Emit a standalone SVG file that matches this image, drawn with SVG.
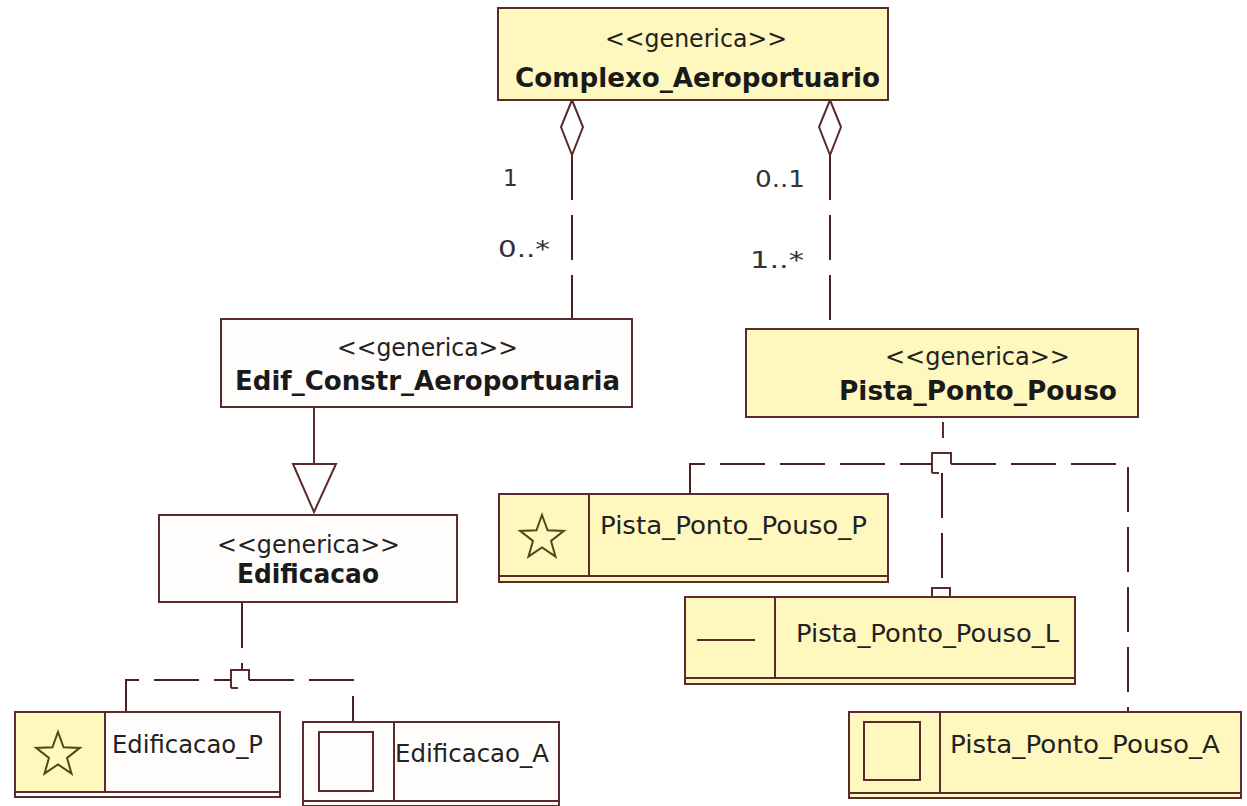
<svg xmlns="http://www.w3.org/2000/svg" width="1247" height="806" viewBox="0 0 1247 806">
<defs>
<style>
.bg{fill:#ffffff}
.box{stroke:#5b2a2a;stroke-width:2}
.y{fill:#fff8be}
.w{fill:#fffdfc}
.ln{stroke:#5b2a2a;stroke-width:2;fill:none}
.dash{stroke:#4a2020;stroke-width:2;fill:none;stroke-dasharray:45 15}
.st{font-family:"DejaVu Sans",sans-serif;font-size:24px;fill:#222}
.nm{font-family:"DejaVu Sans",sans-serif;font-size:26px;font-weight:bold;fill:#1a1a1a}
.lf{font-family:"DejaVu Sans",sans-serif;font-size:25px;fill:#222}
.mu{font-family:"DejaVu Sans",sans-serif;font-size:23px;fill:#333}
.star{fill:none;stroke:#4a4a1a;stroke-width:2}
.ico{fill:none;stroke:#5b2a2a;stroke-width:2}
</style>
<path id="starShape" d="M0,-23 L5.58,-7.69 L21.87,-7.11 L9.04,2.94 L13.52,18.61 L0,9.5 L-13.52,18.61 L-9.04,2.94 L-21.87,-7.11 L-5.58,-7.69 Z"/>
</defs>
<rect class="bg" x="0" y="0" width="1247" height="806"/>

<g id="connectors">
<!-- aggregation left -->
<path class="dash" d="M572,155 V319"/>
<path class="ln" d="M572,100 L583,127 L572,155 L561,127 Z" fill="#ffffff"/>
<!-- aggregation right -->
<path class="dash" d="M830,155 V329"/>
<path class="ln" d="M830,100 L841,127 L830,155 L819,127 Z" fill="#ffffff"/>
<!-- generalization -->
<path class="ln" d="M314,407 V464"/>
<path class="ln" d="M293,464 L336,464 L314,512 Z" fill="#ffffff"/>
<!-- Edificacao fork -->
<path class="dash" d="M242,603 V670"/>
<path class="ln" d="M231,688 V670 H249 V680 M231,688 H238"/>
<path class="dash" d="M126,712 V680 H231"/>
<path class="dash" d="M249,680 H353 V722"/>
<!-- Pista fork -->
<path class="ln" d="M943,422 V438"/>
<path class="ln" d="M932,473 V453 H951 V464 M932,473 H939"/>
<path class="dash" d="M690,494 V464 H932"/>
<path class="dash" d="M951,464 H1128 V712"/>
<path class="dash" d="M942,473 V588"/>
<path class="ln" d="M932,605 V588 H950 V597 M932,605 H939"/>
</g>

<g id="mult">
<text class="mu" x="503" y="186">1</text>
<text class="mu" x="498" y="257" textLength="52" lengthAdjust="spacingAndGlyphs">0..*</text>
<text class="mu" x="755" y="187" textLength="50" lengthAdjust="spacingAndGlyphs">0..1</text>
<text class="mu" x="750" y="268" textLength="54" lengthAdjust="spacingAndGlyphs">1..*</text>
</g>

<g id="Complexo_Aeroportuario">
<rect class="box y" x="498" y="8" width="390" height="92"/>
<text class="st" x="605" y="47" textLength="182" lengthAdjust="spacingAndGlyphs">&lt;&lt;generica&gt;&gt;</text>
<text class="nm" x="515" y="87" textLength="365" lengthAdjust="spacingAndGlyphs">Complexo_Aeroportuario</text>
</g>

<g id="Edif_Constr_Aeroportuaria">
<rect class="box w" x="221" y="319" width="411" height="88"/>
<text class="st" x="337" y="356" textLength="181" lengthAdjust="spacingAndGlyphs">&lt;&lt;generica&gt;&gt;</text>
<text class="nm" x="235" y="390" textLength="385" lengthAdjust="spacingAndGlyphs">Edif_Constr_Aeroportuaria</text>
</g>

<g id="Pista_Ponto_Pouso">
<rect class="box y" x="746" y="329" width="392" height="88"/>
<text class="st" x="885" y="365" textLength="185" lengthAdjust="spacingAndGlyphs">&lt;&lt;generica&gt;&gt;</text>
<text class="nm" x="839" y="400" textLength="278" lengthAdjust="spacingAndGlyphs">Pista_Ponto_Pouso</text>
</g>

<g id="Edificacao">
<rect class="box w" x="159" y="515" width="298" height="87"/>
<text class="st" x="217" y="553" textLength="183" lengthAdjust="spacingAndGlyphs">&lt;&lt;generica&gt;&gt;</text>
<text class="nm" x="237" y="583" textLength="142" lengthAdjust="spacingAndGlyphs">Edificacao</text>
</g>

<g id="Edificacao_P">
<rect class="box w" x="15" y="712" width="265" height="85"/>
<rect class="y" x="16" y="713" width="89" height="79"/>
<path class="ln" d="M105,712 V792 M15,792 H280"/>
<use href="#starShape" class="star" x="58" y="755"/>
<text class="lf" x="112" y="753" textLength="151" lengthAdjust="spacingAndGlyphs">Edificacao_P</text>
</g>

<g id="Edificacao_A">
<rect class="box w" x="303" y="722" width="256" height="84"/>
<path class="ln" d="M394,722 V801 M303,801 H559"/>
<rect class="ico" x="319" y="732" width="54" height="59"/>
<text class="lf" x="395" y="762" textLength="154" lengthAdjust="spacingAndGlyphs">Edificacao_A</text>
</g>

<g id="Pista_Ponto_Pouso_P">
<rect class="box y" x="499" y="494" width="389" height="88"/>
<path class="ln" d="M589,494 V576 M499,576 H888"/>
<use href="#starShape" class="star" x="542" y="538"/>
<text class="lf" x="600" y="534" textLength="267" lengthAdjust="spacingAndGlyphs">Pista_Ponto_Pouso_P</text>
</g>

<g id="Pista_Ponto_Pouso_L">
<rect class="box y" x="685" y="597" width="390" height="87"/>
<path class="ln" d="M775,597 V678 M685,678 H1075"/>
<path class="ico" d="M697,640 H755"/>
<text class="lf" x="796" y="642" textLength="263" lengthAdjust="spacingAndGlyphs">Pista_Ponto_Pouso_L</text>
</g>

<g id="Pista_Ponto_Pouso_A">
<rect class="box y" x="849" y="712" width="392" height="86"/>
<path class="ln" d="M940,712 V793 M849,793 H1241"/>
<rect class="ico" x="864" y="722" width="56" height="58"/>
<text class="lf" x="950" y="753" textLength="270" lengthAdjust="spacingAndGlyphs">Pista_Ponto_Pouso_A</text>
</g>
</svg>
